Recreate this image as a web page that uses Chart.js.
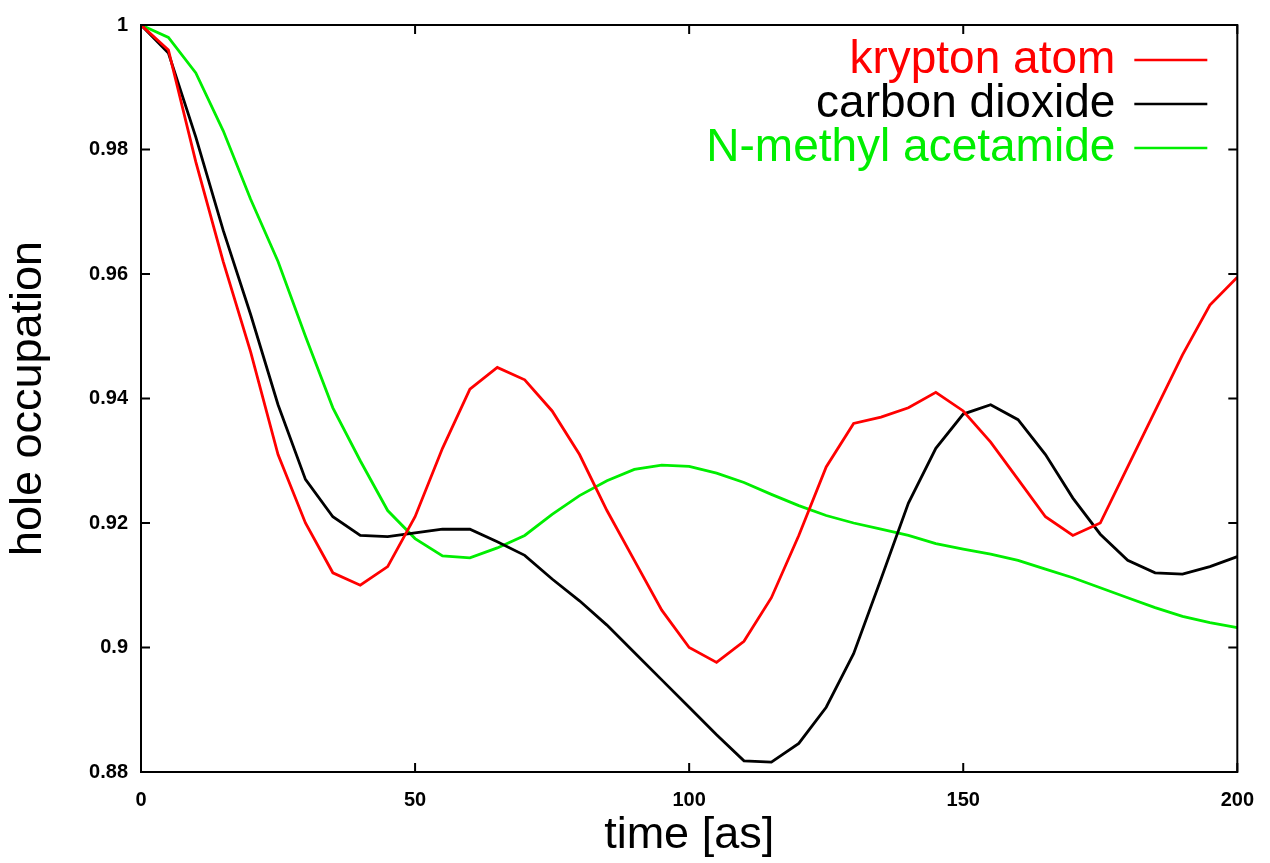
<!DOCTYPE html>
<html>
<head>
<meta charset="utf-8">
<script src="https://cdn.jsdelivr.net/npm/chart.js@4/dist/chart.umd.min.js"></script>
<style>
  body { margin: 0; background: #fff; }
  #wrap { width: 1270px; height: 863px; }
</style>
</head>
<body>
<div id="wrap"><canvas id="myChart" width="1270" height="863"></canvas></div>
<script>
/******* data *******/
const times = [0, 5, 10, 15, 20, 25, 30, 35, 40, 45, 50, 55, 60, 65, 70, 75, 80, 85, 90, 95,
    100, 105, 110, 115, 120, 125, 130, 135, 140, 145, 150, 155, 160, 165, 170, 175, 180, 185, 190, 195, 200];
const krypton = [1.000, 0.996, 0.978, 0.962, 0.9475, 0.931, 0.920, 0.912, 0.910, 0.913,
    0.921, 0.932, 0.9415, 0.945, 0.943, 0.938, 0.931, 0.922, 0.914, 0.906,
    0.900, 0.8976, 0.901, 0.908, 0.918, 0.929, 0.936, 0.937, 0.9385, 0.941,
    0.938, 0.933, 0.927, 0.921, 0.918, 0.920, 0.929, 0.938, 0.947, 0.955, 0.9595];
const carbonDioxide = [1.000, 0.9955, 0.982, 0.967, 0.9535, 0.939, 0.927, 0.921, 0.918, 0.9178,
    0.9184, 0.919, 0.919, 0.917, 0.9148, 0.911, 0.9075, 0.9036, 0.8992, 0.8948,
    0.8904, 0.886, 0.8818, 0.8816, 0.8846, 0.8904, 0.899, 0.911, 0.9232, 0.932,
    0.9375, 0.939, 0.9366, 0.931, 0.924, 0.9182, 0.914, 0.912, 0.9118, 0.913, 0.9146];
const methylAcetamide = [1.000, 0.998, 0.9923, 0.983, 0.972, 0.962, 0.950, 0.9385, 0.930, 0.922,
    0.9175, 0.9147, 0.9144, 0.916, 0.918, 0.9214, 0.9244, 0.9268, 0.9286, 0.9293,
    0.9291, 0.928, 0.9265, 0.9246, 0.9228, 0.9212, 0.920, 0.919, 0.918, 0.9167,
    0.9158, 0.915, 0.914, 0.9126, 0.9112, 0.9096, 0.908, 0.9064, 0.905, 0.904, 0.9032];
const seriesNames = ["krypton atom", "carbon dioxide", "N-methyl acetamide"];
const seriesColors = ["#ff0000", "#000000", "#00ee00"];

const toPoints = (vals) => vals.map((v, i) => ({x: times[i], y: v}));
const fontFamily = '"Liberation Sans", Arial, sans-serif';

/******* inward ticks, frame and the gnuplot style key *******/
const frameAndKey = {
    id: 'frameAndKey',
    afterDatasetsDraw(chart) {
        const {ctx, chartArea: a, scales: {x, y}} = chart;
        ctx.save();
        ctx.strokeStyle = '#000';
        ctx.lineWidth = 2;
        ctx.strokeRect(a.left, a.top, a.right - a.left, a.bottom - a.top);
        const len = 9;
        ctx.beginPath();
        x.ticks.forEach(t => {
            const px = x.getPixelForValue(t.value);
            ctx.moveTo(px, a.bottom); ctx.lineTo(px, a.bottom - len);
            ctx.moveTo(px, a.top); ctx.lineTo(px, a.top + len);
        });
        y.ticks.forEach(t => {
            const py = y.getPixelForValue(t.value);
            ctx.moveTo(a.left, py); ctx.lineTo(a.left + len, py);
            ctx.moveTo(a.right, py); ctx.lineTo(a.right - len, py);
        });
        ctx.stroke();
        // key, top right inside the frame
        ctx.font = '46px ' + fontFamily;
        ctx.textAlign = 'right';
        ctx.textBaseline = 'middle';
        chart.data.datasets.forEach((ds, i) => {
            const rowY = a.top + 35 + i * 44;
            ctx.fillStyle = ds.borderColor;
            ctx.fillText(ds.label, a.right - 122, rowY);
            ctx.strokeStyle = ds.borderColor;
            ctx.lineWidth = 2.5;
            ctx.beginPath();
            ctx.moveTo(a.right - 103, rowY);
            ctx.lineTo(a.right - 30, rowY);
            ctx.stroke();
        });
        ctx.restore();
    }
};

const allSeries = [krypton, carbonDioxide, methylAcetamide];
const ctx = document.getElementById('myChart').getContext('2d');
const myChart = new Chart(ctx, {
    type: 'line',
    data: {
        datasets: allSeries.map((vals, i) => ({
            label: seriesNames[i],
            data: toPoints(vals),
            borderColor: seriesColors[i],
            backgroundColor: seriesColors[i],
            borderWidth: 2.8,
            pointRadius: 0,
            tension: 0,
            fill: false
        }))
    },
    options: {
        responsive: false,
        animation: false,
        layout: { padding: { left: 0, right: 29, top: 22, bottom: 0 } },
        plugins: {
            legend: { display: false },
            tooltip: { enabled: false }
        },
        scales: {
            x: {
                type: 'linear',
                min: 0, max: 200,
                border: { display: false },
                grid: { display: false, drawTicks: false },
                ticks: { stepSize: 50, padding: 16, color: '#000',
                    font: { family: fontFamily, size: 20, weight: 'bold' } },
                title: { display: true, text: 'time [as]', color: '#000', padding: 0,
                    font: { family: fontFamily, size: 45 } },
                afterFit: (scale) => { scale.height = 91; }
            },
            y: {
                min: 0.88, max: 1,
                border: { display: false },
                grid: { display: false, drawTicks: false },
                ticks: { stepSize: 0.02, padding: 13, color: '#000',
                    callback: (v) => String(Number(v.toFixed(2))),
                    font: { family: fontFamily, size: 20, weight: 'bold' } },
                title: { display: true, text: 'hole occupation', color: '#000', padding: { top: 2, bottom: 0 },
                    font: { family: fontFamily, size: 45 } },
                afterFit: (scale) => { scale.width = 141; }
            }
        }
    },
    plugins: [frameAndKey]
});
</script>
</body>
</html>
